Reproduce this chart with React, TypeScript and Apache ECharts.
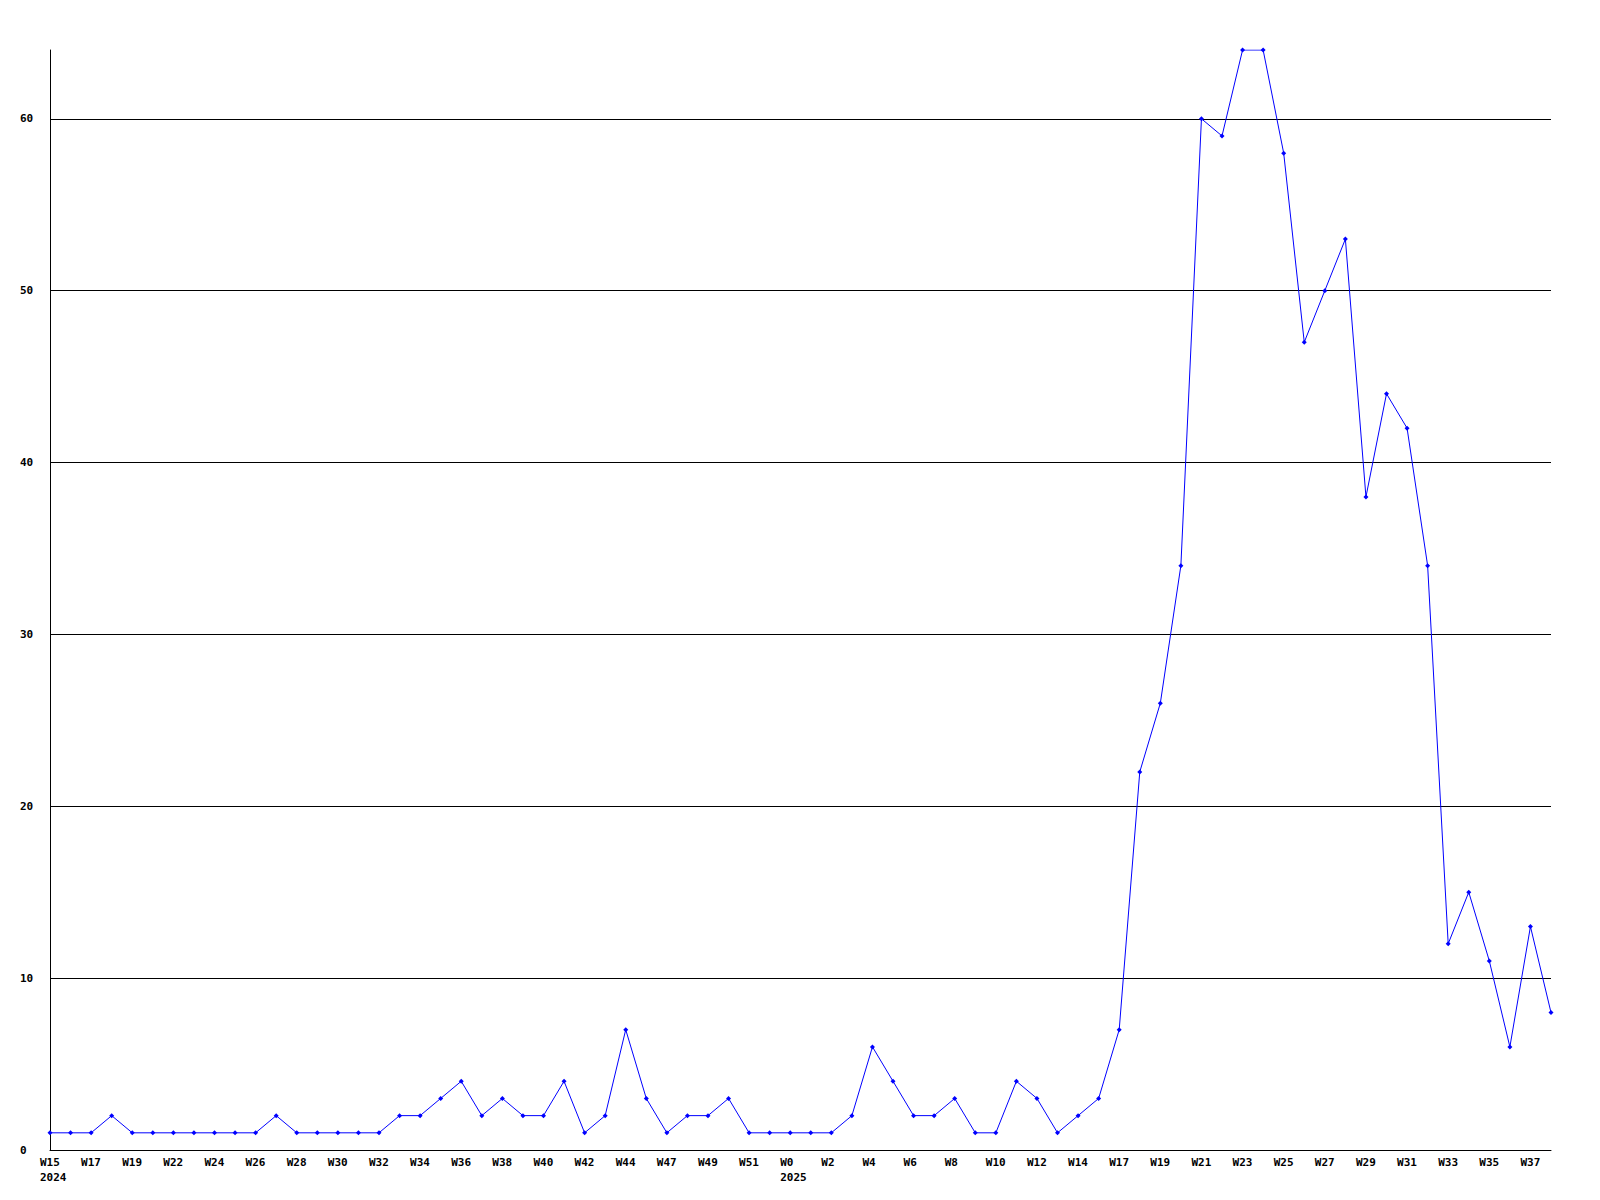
import React, { useEffect, useRef } from "react";
import * as echarts from "echarts";

const years: string[] = [
  ...Array(36).fill("2024"),
  ...Array(38).fill("2025"),
];

const weeks: string[] = [
  "W15", "W16", "W17", "W18", "W19", "W20", "W22", "W23", "W24", "W25",
  "W26", "W27", "W28", "W29", "W30", "W31", "W32", "W33", "W34", "W35",
  "W36", "W37", "W38", "W39", "W40", "W41", "W42", "W43", "W44", "W45",
  "W47", "W48", "W49", "W50", "W51", "W52",
  "W0", "W1", "W2", "W3", "W4", "W5", "W6", "W7", "W8", "W9",
  "W10", "W11", "W12", "W13", "W14", "W15", "W17", "W18", "W19", "W20",
  "W21", "W22", "W23", "W24", "W25", "W26", "W27", "W28", "W29", "W30",
  "W31", "W32", "W33", "W34", "W35", "W36", "W37", "W38",
];

const values: number[] = [
  1, 1, 1, 2, 1, 1, 1, 1, 1, 1,
  1, 2, 1, 1, 1, 1, 1, 2, 2, 3,
  4, 2, 3, 2, 2, 4, 1, 2, 7, 3,
  1, 2, 2, 3, 1, 1, 1, 1, 1, 2,
  6, 4, 2, 2, 3, 1, 1, 4, 3, 1,
  2, 3, 7, 22, 26, 34, 60, 59, 64, 64,
  58, 47, 50, 53, 38, 44, 42, 34, 12, 15,
  11, 6, 13, 8,
];

const yTicks = { min: 0, max: 64, interval: 10 };

export default function App() {
  const ref = useRef<HTMLDivElement>(null);
  useEffect(() => {
    const el = ref.current!;
    const chart = echarts.init(el, null, { renderer: "svg" });
    const categories = weeks.map((w, i) => `${years[i]}-${w}`);
    const font = "'DejaVu Sans Mono', monospace";
    chart.setOption({
      animation: false,
      backgroundColor: "#ffffff",
      grid: { left: 50, right: 49, top: 50, bottom: 50, containLabel: false },
      xAxis: {
        type: "category",
        data: categories,
        boundaryGap: false,
        axisLine: { show: true, lineStyle: { color: "#000", width: 1 } },
        axisTick: { show: false },
        splitLine: { show: false },
        axisLabel: {
          interval: 1,
          margin: 5,
          color: "#000",
          fontFamily: font,
          fontWeight: "bold",
          fontSize: 11,
          lineHeight: 15,
          align: "left",
          padding: [0, 0, 0, -10],
          formatter: (v: string, i: number) => {
            const w = weeks[i];
            if (i === 0 || years[i] !== years[i - 1]) return `${w}\n${years[i]}`;
            return w;
          },
        },
      },
      yAxis: {
        type: "value",
        min: yTicks.min,
        max: yTicks.max,
        interval: yTicks.interval,
        axisLine: { show: true, lineStyle: { color: "#000", width: 1 } },
        axisTick: { show: false },
        splitLine: { show: true, showMaxLine: false, lineStyle: { color: "#000", width: 1 } },
        axisLabel: {
          showMaxLabel: false,
          margin: 30,
          align: "left",
          color: "#000",
          fontFamily: font,
          fontWeight: "bold",
          fontSize: 11,
        },
      },
      series: [
        {
          type: "line",
          data: values,
          symbol: "diamond",
          symbolSize: 5,
          showSymbol: true,
          lineStyle: { color: "#0000ff", width: 1 },
          itemStyle: { color: "#0000ff" },
          emphasis: { disabled: true },
        },
      ],
    });
    return () => chart.dispose();
  }, []);
  return (
    <div
      ref={ref}
      style={{ position: "fixed", left: 0, top: 0, width: 1600, height: 1200 }}
    />
  );
}
